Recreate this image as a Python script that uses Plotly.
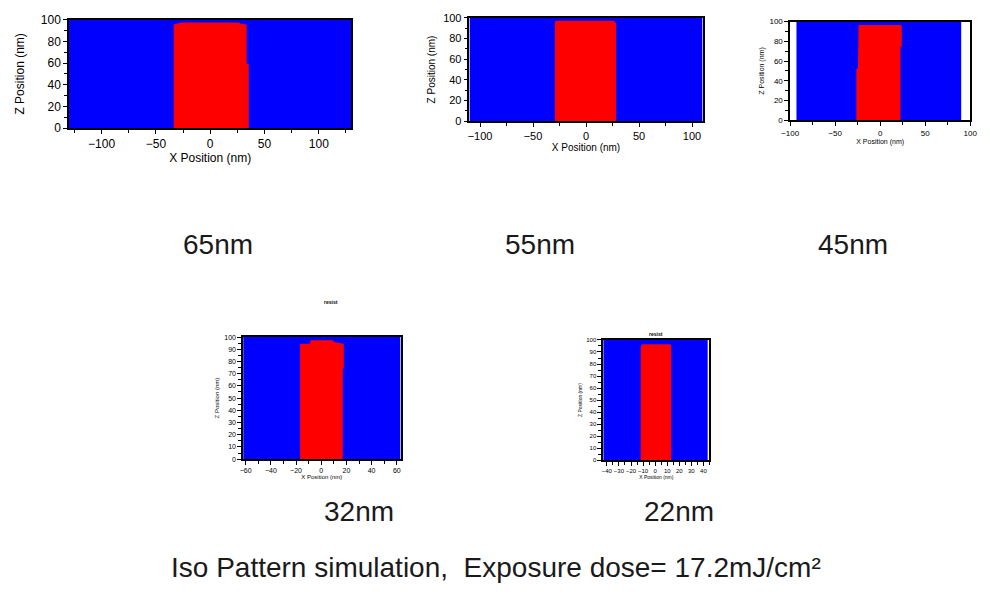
import plotly.graph_objects as go

W, H = 990, 596

panel_labels = ["65nm", "55nm", "45nm", "32nm", "22nm"]
x_ranges = [[-130, 130], [-110, 110], [-100, 100], [-62, 63], [-43, 45]]
y_range = [0, 100]
blue_x = [[-130, 130], [-110, 110], [-93, 90], [-62, 63], [-43, 43.5]]
blue_z = [0, 100]

profile_x = [
    [-33.6, -33.6, -32, -26, 26, 28, 33, 33.6, 33.6, 35.5, 35.5],
    [-29.4, -29.4, -28.5, 26.5, 28.4, 28.4],
    [-26.5, -26.5, -24.7, -24.7, -24, 23, 24, 24, 22.5, 22.5],
    [-16.8, -16.8, -9, -8.4, 9.5, 10, 17.9, 17.9, 17.1, 17.1],
    [-12, -12, -11, 12.5, 13.3, 13.3],
]
profile_z = [
    [0, 95.5, 96, 97.5, 97.5, 96.5, 95.5, 95, 59.5, 59, 0],
    [0, 96, 97.2, 97.2, 94.5, 0],
    [0, 52, 52.5, 95.5, 96.5, 96.5, 95.5, 75, 74, 0],
    [0, 94.6, 94.6, 97.3, 97.3, 96, 94.5, 74.5, 74, 0],
    [0, 94, 96.5, 96.5, 95, 0],
]
x_dtick = [50, 50, 50, 20, 10]
x_minor = [25, 25, 25, 10, 5]
y_dtick = [20, 20, 20, 10, 10]
y_minor = [10, 10, 10, 5, 5]
x_title = "X Position (nm)"
y_title = "Z Position (nm)"
panel_title = ["", "", "", "resist", "resist"]

# layout (pixel boxes of plot areas)
boxes = [(61, 13, 348, 124), (468, 11, 705, 117), (794, 15, 977, 116),
         (238, 338, 398, 463), (604, 341, 712, 464)]
tick_sizes = [12, 11, 8, 7, 6]
title_sizes = [12, 10, 7, 6, 5]
ytitle_standoff = [14, 6, 4, 4, 4]
panel_title_y = [0, 0, 0, 302, 335]

caption_pos = [(212, 243), (540, 243), (858, 243), (356, 517), (681, 517)]
footer = "Iso Pattern simulation,  Exposure dose= 17.2mJ/cm²"
footer_pos = (495, 574)

BLUE = "#0000ff"
RED = "#ff0000"
FONT = "Liberation Sans, Arial, sans-serif"

fig = go.Figure()
layout = dict(width=W, height=H, margin=dict(l=0, r=0, t=0, b=0),
              paper_bgcolor="white", plot_bgcolor="white", showlegend=False,
              annotations=[])

for i in range(5):
    sfx = "" if i == 0 else str(i + 1)
    xa, ya = "x" + sfx, "y" + sfx
    x0, x1 = blue_x[i]
    z0, z1 = blue_z
    fig.add_trace(go.Scatter(x=[x0, x1, x1, x0, x0], y=[z0, z0, z1, z1, z0],
                             fill="toself", fillcolor=BLUE, mode="lines",
                             line=dict(width=0, color=BLUE), xaxis=xa, yaxis=ya,
                             hoverinfo="skip"))
    fig.add_trace(go.Scatter(x=profile_x[i], y=profile_z[i], fill="toself",
                             fillcolor=RED, mode="lines",
                             line=dict(width=0, color=RED), xaxis=xa, yaxis=ya,
                             hoverinfo="skip"))
    l, t, r, b = boxes[i]
    common = dict(showgrid=False, zeroline=False, showline=True, linecolor="black",
                  linewidth=1.5, mirror=True, ticks="outside", ticklen=4,
                  tickcolor="black", tickwidth=1, tickangle=0,
                  tickfont=dict(family=FONT, size=tick_sizes[i], color="black"))
    layout["xaxis" + sfx] = dict(common, domain=[l / W, r / W], range=x_ranges[i],
                                 anchor=ya, dtick=x_dtick[i], tick0=0,
                                 minor=dict(dtick=x_minor[i], tick0=0, ticks="outside",
                                            ticklen=3, tickcolor="black"),
                                 title=dict(text=x_title, standoff=2,
                                            font=dict(family=FONT, size=title_sizes[i],
                                                      color="black")))
    layout["yaxis" + sfx] = dict(common, domain=[1 - b / H, 1 - t / H], range=y_range,
                                 anchor=xa, dtick=y_dtick[i], tick0=0,
                                 minor=dict(dtick=y_minor[i], tick0=0, ticks="outside",
                                            ticklen=3, tickcolor="black"),
                                 title=dict(text=y_title, standoff=ytitle_standoff[i],
                                            font=dict(family=FONT, size=title_sizes[i],
                                                      color="black")))
    if panel_title[i]:
        layout["annotations"].append(dict(
            text="<b>" + panel_title[i] + "</b>", x=(l + r) / 2 / W,
            y=1 - panel_title_y[i] / H, yanchor="middle",
            xref="paper", yref="paper", showarrow=False,
            font=dict(family=FONT, size=5, color="black")))

for lab, (px, py) in zip(panel_labels, caption_pos):
    layout["annotations"].append(dict(text=lab, x=px / W, y=1 - py / H, xref="paper",
                                      yref="paper", showarrow=False, xanchor="center",
                                      yanchor="middle",
                                      font=dict(family=FONT, size=28, color="#1a1a1a")))
layout["annotations"].append(dict(text=footer, x=footer_pos[0] / W, y=1 - footer_pos[1] / H,
                                  xref="paper", yref="paper", showarrow=False,
                                  xanchor="center", yanchor="middle",
                                  font=dict(family=FONT, size=28, color="#1a1a1a")))

fig.update_layout(**layout)
fig.write_html("out.html")
